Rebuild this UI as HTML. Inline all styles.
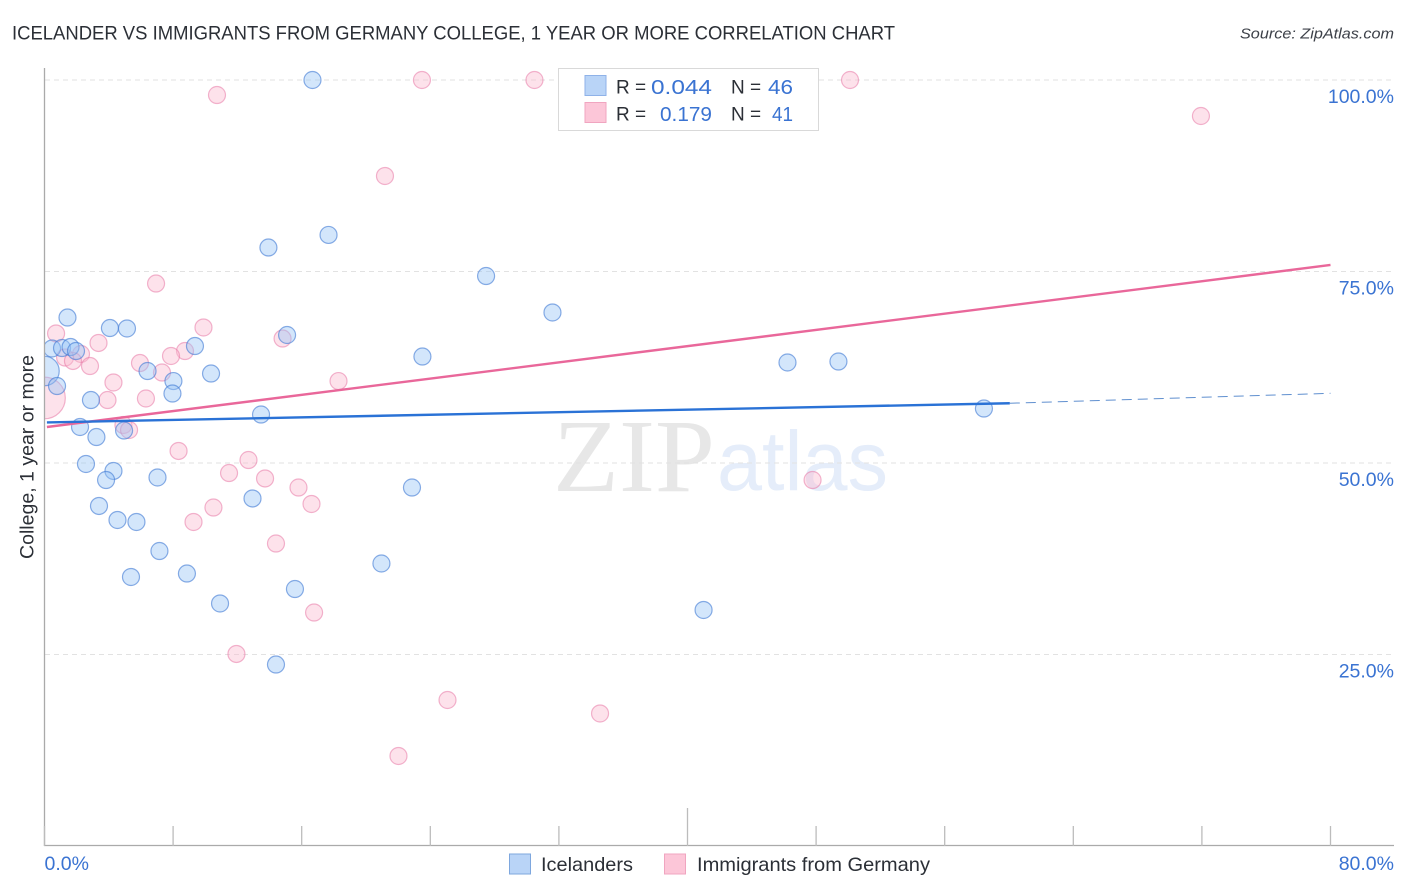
<!DOCTYPE html>
<html lang="en">
<head>
<meta charset="utf-8">
<title>Icelander vs Immigrants from Germany College, 1 Year or More Correlation Chart</title>
<style>
html,body{margin:0;padding:0;background:#fff;width:1406px;height:892px;overflow:hidden}
svg{display:block;font-family:"Liberation Sans",sans-serif}
</style>
</head>
<body>
<svg id="chart" width="1406" height="892" viewBox="0 0 1406 892" xmlns="http://www.w3.org/2000/svg">
  <text x="12" y="39.5" font-size="19.5" fill="#2b2f36" textLength="883" lengthAdjust="spacingAndGlyphs">ICELANDER VS IMMIGRANTS FROM GERMANY COLLEGE, 1 YEAR OR MORE CORRELATION CHART</text>
  <text x="1394" y="38.5" font-size="15" font-style="italic" fill="#3c4048" text-anchor="end" textLength="154" lengthAdjust="spacingAndGlyphs">Source: ZipAtlas.com</text>

  <g>
    <text x="553" y="491" font-family="'Liberation Serif',serif" font-size="104" fill="#e7e7e7" textLength="162" lengthAdjust="spacingAndGlyphs">ZIP</text>
    <text x="717" y="490" font-size="84" fill="#e5edfa" textLength="171" lengthAdjust="spacingAndGlyphs">atlas</text>
  </g>

  <g id="grid"></g>
  <g id="points-pink"></g>
  <g id="points-blue"></g>
  <rect x="0" y="60" width="44.5" height="800" fill="#fff"/>
  <g id="axes"></g>
  <g id="trends"></g>
  <g id="tick-labels"></g>

  <text transform="translate(33.5,457) rotate(-90)" font-size="19" fill="#2b2f36" text-anchor="middle" textLength="204" lengthAdjust="spacingAndGlyphs">College, 1 year or more</text>

  <g>
    <rect x="558.5" y="68.5" width="260" height="62" fill="#fff" stroke="#d9d9d9" stroke-width="1"/>
    <rect x="585" y="75.5" width="21" height="20" fill="#b9d4f7" stroke="#8fb2e8" stroke-width="1"/>
    <rect x="585" y="102.5" width="21" height="20" fill="#fcc6d8" stroke="#f0a5c0" stroke-width="1"/>
    <text x="616" y="93.5" font-size="19" fill="#2b2f36">R =</text>
    <text x="651" y="94" font-size="20" fill="#3a73d2" textLength="61" lengthAdjust="spacingAndGlyphs">0.044</text>
    <text x="731" y="93.5" font-size="19" fill="#2b2f36">N =</text>
    <text x="768" y="94" font-size="20" fill="#3a73d2" textLength="25" lengthAdjust="spacingAndGlyphs">46</text>
    <text x="616" y="120.5" font-size="19" fill="#2b2f36">R =</text>
    <text x="660" y="121" font-size="20" fill="#3a73d2" textLength="52" lengthAdjust="spacingAndGlyphs">0.179</text>
    <text x="731" y="120.5" font-size="19" fill="#2b2f36">N =</text>
    <text x="772" y="121" font-size="20" fill="#3a73d2" textLength="21" lengthAdjust="spacingAndGlyphs">41</text>
  </g>

  <g>
    <g>
      <rect x="509.5" y="854" width="21" height="20" fill="#b9d4f7" stroke="#7ea7de" stroke-width="1"/>
      <text x="541" y="871" font-size="19.5" fill="#2b2f36" textLength="92" lengthAdjust="spacingAndGlyphs">Icelanders</text>
    </g>
    <g>
      <rect x="664.5" y="854" width="21" height="20" fill="#fcc6d8" stroke="#f0a5c0" stroke-width="1"/>
      <text x="697" y="871" font-size="19.5" fill="#2b2f36" textLength="233" lengthAdjust="spacingAndGlyphs">Immigrants from Germany</text>
    </g>
  </g>
</svg>
<script>
// ---- chart data ----
const yTickValues = [100, 75, 50, 25];
const yTickLabels = ["100.0%", "75.0%", "50.0%", "25.0%"];
const xTickValues = [0, 8, 16, 24, 32, 40, 48, 56, 64, 72, 80];
const xEndLabels = ["0.0%", "80.0%"];

const icelanderX = [16.67,13.93,17.67,27.47,31.60,1.43,4.07,5.13,15.09,0.47,1.09,1.62,1.96,9.36,23.51,46.22,49.39,0,6.41,10.36,8.02,0.78,7.96,2.89,13.47,58.44,2.21,4.95,3.23,2.58,4.29,3.83,7.03,12.94,22.86,3.39,4.54,5.72,7.15,5.38,8.86,20.96,15.58,10.92,41.00,14.40];
const icelanderY = [100,78.13,79.77,74.41,69.65,68.99,67.62,67.56,66.71,64.95,65.01,65.14,64.62,65.27,63.90,63.12,63.25,62.01,62.01,61.68,60.70,60.05,59.07,58.22,56.33,57.11,54.70,54.24,53.39,49.87,48.96,47.78,48.11,45.37,46.80,44.39,42.56,42.30,38.51,35.12,35.57,36.88,33.55,31.66,30.81,23.69];
const icelanderWeight = [1,1,1,1,1,1,1,1,1,1,1,1,1,1,1,1,1,3,1,1,1,1,1,1,1,1,1,1,1,1,1,1,1,1,1,1,1,1,1,1,1,1,1,1,1,1];

const germanyX = [10.73,23.48,30.48,50.11,71.94,21.18,6.94,0.72,9.89,14.81,3.36,8.74,7.87,2.27,1.28,1.77,2.83,5.94,7.31,4.29,18.29,0,3.92,6.31,4.91,5.26,8.34,12.69,11.48,13.72,15.80,47.78,16.61,10.51,9.27,14.40,16.77,11.94,25.07,34.56,22.02];
const germanyY = [98.04,100,100,100,95.30,87.47,73.43,66.91,67.69,66.25,65.67,64.62,63.97,64.23,63.77,63.32,62.66,63.05,61.81,60.51,60.70,58.49,58.22,58.42,54.96,54.31,51.57,50.39,48.69,47.98,46.80,47.78,44.65,44.19,42.30,39.49,30.48,25.07,19.06,17.30,11.75];
const germanyWeight = [1,1,1,1,1,1,1,1,1,1,1,1,1,1,1,1,1,1,1,1,1,6,1,1,1,1,1,1,1,1,1,1,1,1,1,1,1,1,1,1,1];

const icelanderTrendX = [0.15, 60.05];
const icelanderTrendY = [55.3, 57.8];
const icelanderProjectionX = [60.05, 80];
const icelanderProjectionY = [57.8, 59.1];
const germanyTrendX = [0.15, 80];
const germanyTrendY = [54.7, 75.85];

// ---- axis functions ----
const xScale = v => 44.5 + v * (1330.5 - 44.5) / 80;
const yScale = v => 846 - v * (846 - 80) / 100;
const NS = "http://www.w3.org/2000/svg";
function make(tag, attrs, parent) {
  const el = document.createElementNS(NS, tag);
  for (const k in attrs) el.setAttribute(k, attrs[k]);
  parent.appendChild(el);
  return el;
}

// ---- gridlines ----
const gridG = document.getElementById("grid");


yTickValues.forEach(v => {
  const l = make("line", {x1: 45, x2: 1394, y1: yScale(v), y2: yScale(v), stroke: "#e2e2e2", "stroke-width": 1, "stroke-dasharray": "5 4"}, gridG);
  
  
});

// ---- axes ----
const axesG = document.getElementById("axes");


const yAxisLine = make("line", {x1: 44.5, x2: 44.5, y1: 68, y2: 846, stroke: "#aaaaaa", "stroke-width": 1.3}, axesG);


const xAxisLine = make("line", {x1: 44, x2: 1394, y1: 845.5, y2: 845.5, stroke: "#aaaaaa", "stroke-width": 1.3}, axesG);


xTickValues.forEach(v => {
  const top = v === 40 ? 808 : 826;
  const t = make("line", {x1: xScale(v), x2: xScale(v), y1: top, y2: 846, stroke: "#bcbcbc", "stroke-width": 1.3}, axesG);
  
  
});

// ---- tick labels ----
const labelG = document.getElementById("tick-labels");


yTickValues.forEach((v, i) => {
  const t = make("text", {x: 1394, y: yScale(v) + 23, "font-size": 19.5, fill: "#3a73d2", "text-anchor": "end"}, labelG);
  t.textContent = yTickLabels[i];
  
  
});
const xLabelLeft = make("text", {x: xScale(0), y: 870, "font-size": 19.5, fill: "#3a73d2"}, labelG);
xLabelLeft.textContent = xEndLabels[0];


const xLabelRight = make("text", {x: 1394, y: 870, "font-size": 19.5, fill: "#3a73d2", "text-anchor": "end"}, labelG);
xLabelRight.textContent = xEndLabels[1];



// ---- points ----
const baseRadius = 8.5;
const bluePoints = document.getElementById("points-blue");


icelanderX.forEach((x, i) => {
  const c = make("circle", {cx: xScale(x), cy: yScale(icelanderY[i]), r: baseRadius * Math.sqrt(icelanderWeight[i]), fill: "rgba(150,195,245,0.42)", stroke: "rgba(62,120,212,0.6)", "stroke-width": 1.2}, bluePoints);
  
  
});
const pinkPoints = document.getElementById("points-pink");


germanyX.forEach((x, i) => {
  const c = make("circle", {cx: xScale(x), cy: yScale(germanyY[i]), r: baseRadius * Math.sqrt(germanyWeight[i]), fill: "rgba(250,185,208,0.42)", stroke: "rgba(232,120,165,0.55)", "stroke-width": 1.2}, pinkPoints);
  
  
});

// ---- trend lines ----
const trendG = document.getElementById("trends");


const germanyTrend = make("line", {x1: xScale(germanyTrendX[0]), y1: yScale(germanyTrendY[0]), x2: xScale(germanyTrendX[1]), y2: yScale(germanyTrendY[1]), stroke: "#e9679a", "stroke-width": 2.4}, trendG);


const icelanderTrend = make("line", {x1: xScale(icelanderTrendX[0]), y1: yScale(icelanderTrendY[0]), x2: xScale(icelanderTrendX[1]), y2: yScale(icelanderTrendY[1]), stroke: "#2a72d6", "stroke-width": 2.4}, trendG);


const icelanderProjection = make("line", {x1: xScale(icelanderProjectionX[0]), y1: yScale(icelanderProjectionY[0]), x2: xScale(icelanderProjectionX[1]), y2: yScale(icelanderProjectionY[1]), stroke: "#5f8fcf", "stroke-width": 1, "stroke-dasharray": "10 6"}, trendG);


</script>
</body>
</html>
